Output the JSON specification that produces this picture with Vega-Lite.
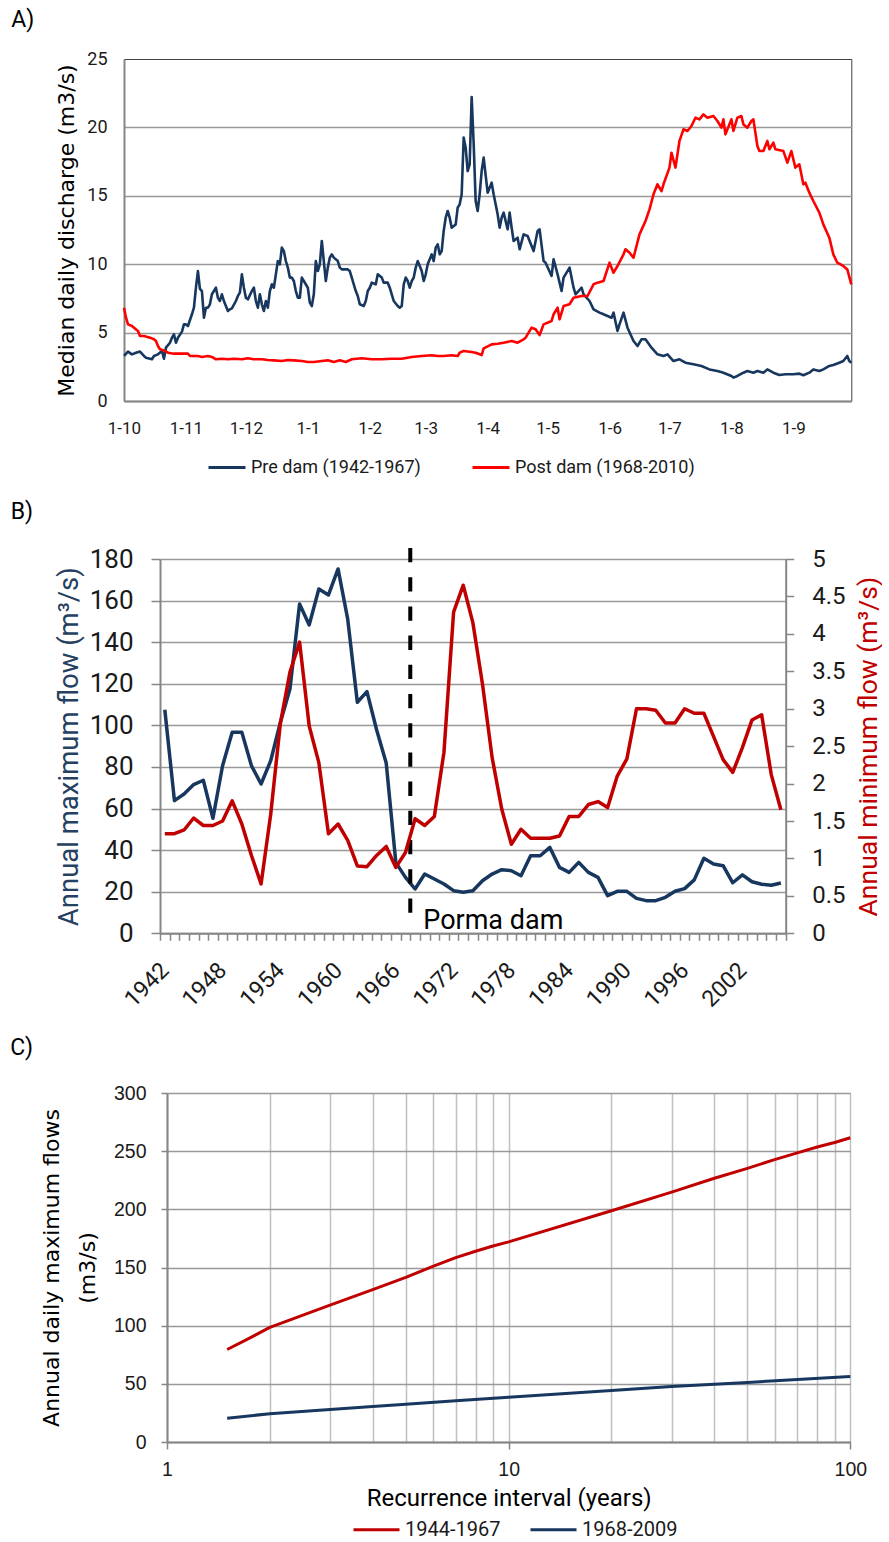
{
  "$schema": "https://vega.github.io/schema/vega-lite/v6.json",
  "padding": {"left": 9, "top": 8, "right": 0, "bottom": 0},
  "background": "white",
  "config": {
    "font": "Roboto",
    "view": {"stroke": null},
    "axis": {"labelColor": "#1a1a1a", "titleColor": "#000000", "domainColor": "#868686", "domainWidth": 2, "gridColor": "#999999", "gridWidth": 1.5, "tickColor": "#868686", "tickWidth": 1.5, "titleFontWeight": "normal", "labelFont": "Roboto", "titleFont": "Roboto", "labelOverlap": false},
    "title": {"fontWeight": "normal", "font": "Roboto", "fontSize": 23, "color": "#000000", "anchor": "start", "frame": "group"},
    "legend": {"labelFont": "Roboto", "labelColor": "#1a1a1a", "padding": 0, "labelLimit": 0}
  },
  "datasets": {
    "pre": [
      {"date":"2001-10-01","q":3.29},{"date":"2001-10-03","q":3.61},{"date":"2001-10-05","q":3.41},{"date":"2001-10-07","q":3.53},{"date":"2001-10-09","q":3.61},{"date":"2001-10-11","q":3.29},{"date":"2001-10-12","q":3.17},{"date":"2001-10-15","q":3.05},{"date":"2001-10-16","q":3.29},{"date":"2001-10-18","q":3.41},{"date":"2001-10-20","q":3.66},{"date":"2001-10-21","q":3.09},{"date":"2001-10-22","q":3.90},{"date":"2001-10-24","q":4.26},{"date":"2001-10-25","q":4.63},{"date":"2001-10-26","q":4.87},{"date":"2001-10-27","q":4.26},{"date":"2001-10-28","q":4.63},{"date":"2001-10-30","q":5.07},{"date":"2001-10-31","q":5.60},
      {"date":"2001-11-01","q":5.60},{"date":"2001-11-02","q":5.48},{"date":"2001-11-04","q":6.34},{"date":"2001-11-05","q":6.82},{"date":"2001-11-06","q":8.28},{"date":"2001-11-07","q":9.50},{"date":"2001-11-08","q":8.20},{"date":"2001-11-09","q":8.04},{"date":"2001-11-10","q":6.09},{"date":"2001-11-11","q":6.82},{"date":"2001-11-12","q":6.82},{"date":"2001-11-13","q":7.07},{"date":"2001-11-14","q":7.80},{"date":"2001-11-16","q":8.28},{"date":"2001-11-17","q":7.55},{"date":"2001-11-18","q":7.31},{"date":"2001-11-19","q":7.80},{"date":"2001-11-20","q":7.31},{"date":"2001-11-22","q":6.58},{"date":"2001-11-23","q":6.70},{"date":"2001-11-24","q":6.77},{"date":"2001-11-26","q":7.31},{"date":"2001-11-27","q":7.68},{"date":"2001-11-28","q":7.92},{"date":"2001-11-29","q":9.26},{"date":"2001-11-30","q":8.28},
      {"date":"2001-12-01","q":7.55},{"date":"2001-12-02","q":7.43},{"date":"2001-12-04","q":8.04},{"date":"2001-12-05","q":8.28},{"date":"2001-12-06","q":7.31},{"date":"2001-12-07","q":6.82},{"date":"2001-12-08","q":7.80},{"date":"2001-12-09","q":7.07},{"date":"2001-12-10","q":6.58},{"date":"2001-12-11","q":7.31},{"date":"2001-12-12","q":6.82},{"date":"2001-12-13","q":8.04},{"date":"2001-12-14","q":8.53},{"date":"2001-12-15","q":8.28},{"date":"2001-12-16","q":9.26},{"date":"2001-12-17","q":10.23},{"date":"2001-12-18","q":9.99},{"date":"2001-12-19","q":11.21},{"date":"2001-12-20","q":10.96},{"date":"2001-12-21","q":10.23},{"date":"2001-12-22","q":9.75},{"date":"2001-12-23","q":9.02},{"date":"2001-12-24","q":9.02},{"date":"2001-12-25","q":8.77},{"date":"2001-12-26","q":8.04},{"date":"2001-12-27","q":7.55},{"date":"2001-12-28","q":7.55},{"date":"2001-12-29","q":9.02},{"date":"2001-12-30","q":8.77},
      {"date":"2002-01-01","q":8.28},{"date":"2002-01-02","q":7.19},{"date":"2002-01-03","q":6.94},{"date":"2002-01-04","q":7.80},{"date":"2002-01-05","q":10.23},{"date":"2002-01-06","q":9.50},{"date":"2002-01-07","q":9.99},{"date":"2002-01-08","q":11.70},{"date":"2002-01-09","q":10.23},{"date":"2002-01-10","q":8.77},{"date":"2002-01-11","q":9.75},{"date":"2002-01-12","q":10.48},{"date":"2002-01-13","q":10.72},{"date":"2002-01-14","q":10.48},{"date":"2002-01-16","q":10.23},{"date":"2002-01-17","q":9.75},{"date":"2002-01-18","q":9.62},{"date":"2002-01-19","q":9.62},{"date":"2002-01-21","q":9.62},{"date":"2002-01-22","q":9.50},{"date":"2002-01-23","q":9.02},{"date":"2002-01-25","q":8.04},{"date":"2002-01-26","q":7.68},{"date":"2002-01-27","q":7.07},{"date":"2002-01-29","q":6.94},{"date":"2002-01-30","q":7.31},{"date":"2002-01-31","q":8.04},
      {"date":"2002-02-01","q":8.28},{"date":"2002-02-02","q":8.65},{"date":"2002-02-04","q":8.53},{"date":"2002-02-05","q":9.26},{"date":"2002-02-07","q":9.02},{"date":"2002-02-08","q":8.65},{"date":"2002-02-10","q":8.65},{"date":"2002-02-11","q":8.28},{"date":"2002-02-12","q":7.80},{"date":"2002-02-13","q":7.31},{"date":"2002-02-15","q":6.94},{"date":"2002-02-16","q":6.82},{"date":"2002-02-17","q":6.94},{"date":"2002-02-18","q":8.53},{"date":"2002-02-19","q":9.02},{"date":"2002-02-20","q":8.77},{"date":"2002-02-21","q":8.28},{"date":"2002-02-22","q":8.77},{"date":"2002-02-23","q":9.02},{"date":"2002-02-24","q":9.75},{"date":"2002-02-25","q":10.23},{"date":"2002-02-26","q":9.87},{"date":"2002-02-27","q":9.50},{"date":"2002-02-28","q":8.77},
      {"date":"2002-03-01","q":9.26},{"date":"2002-03-02","q":9.99},{"date":"2002-03-04","q":10.72},{"date":"2002-03-05","q":10.23},{"date":"2002-03-06","q":11.21},{"date":"2002-03-07","q":11.45},{"date":"2002-03-08","q":10.72},{"date":"2002-03-09","q":10.96},{"date":"2002-03-10","q":12.43},{"date":"2002-03-11","q":13.40},{"date":"2002-03-12","q":13.89},{"date":"2002-03-13","q":13.40},{"date":"2002-03-14","q":12.67},{"date":"2002-03-16","q":12.91},{"date":"2002-03-17","q":14.13},{"date":"2002-03-18","q":14.38},{"date":"2002-03-19","q":15.11},{"date":"2002-03-20","q":19.25},{"date":"2002-03-21","q":18.52},{"date":"2002-03-22","q":16.81},{"date":"2002-03-23","q":17.30},{"date":"2002-03-24","q":22.22},{"date":"2002-03-25","q":18.8},{"date":"2002-03-26","q":14.62},{"date":"2002-03-27","q":13.89},{"date":"2002-03-28","q":15.11},{"date":"2002-03-29","q":16.81},{"date":"2002-03-30","q":17.79},
      {"date":"2002-04-01","q":15.23},{"date":"2002-04-03","q":15.96},{"date":"2002-04-04","q":15.11},{"date":"2002-04-06","q":13.65},{"date":"2002-04-07","q":12.67},{"date":"2002-04-08","q":13.40},{"date":"2002-04-09","q":13.77},{"date":"2002-04-11","q":12.55},{"date":"2002-04-12","q":13.77},{"date":"2002-04-13","q":12.67},{"date":"2002-04-14","q":11.70},{"date":"2002-04-16","q":11.94},{"date":"2002-04-17","q":11.09},{"date":"2002-04-19","q":12.18},{"date":"2002-04-21","q":12.06},{"date":"2002-04-24","q":10.96},{"date":"2002-04-26","q":12.43},{"date":"2002-04-27","q":12.55},{"date":"2002-04-29","q":10.23},{"date":"2002-04-30","q":10.11},
      {"date":"2002-05-03","q":9.14},{"date":"2002-05-04","q":10.36},{"date":"2002-05-06","q":9.26},{"date":"2002-05-08","q":8.04},{"date":"2002-05-09","q":9.02},{"date":"2002-05-12","q":9.75},{"date":"2002-05-14","q":8.28},{"date":"2002-05-15","q":7.80},{"date":"2002-05-18","q":8.28},{"date":"2002-05-19","q":7.80},{"date":"2002-05-22","q":7.31},{"date":"2002-05-24","q":6.70},{"date":"2002-05-27","q":6.46},{"date":"2002-05-29","q":6.34},
      {"date":"2002-06-02","q":6.09},{"date":"2002-06-03","q":6.46},{"date":"2002-06-05","q":5.12},{"date":"2002-06-06","q":5.60},{"date":"2002-06-08","q":6.46},{"date":"2002-06-10","q":5.36},{"date":"2002-06-13","q":4.39},{"date":"2002-06-15","q":4.02},{"date":"2002-06-17","q":4.51},{"date":"2002-06-19","q":4.51},{"date":"2002-06-22","q":3.90},{"date":"2002-06-25","q":3.41},{"date":"2002-06-28","q":3.29},{"date":"2002-06-30","q":3.41},
      {"date":"2002-07-03","q":2.92},{"date":"2002-07-06","q":3.05},{"date":"2002-07-09","q":2.80},{"date":"2002-07-13","q":2.68},{"date":"2002-07-17","q":2.56},{"date":"2002-07-21","q":2.31},{"date":"2002-07-25","q":2.19},{"date":"2002-07-28","q":2.07},
      {"date":"2002-08-01","q":1.83},{"date":"2002-08-02","q":1.71},{"date":"2002-08-04","q":1.83},{"date":"2002-08-07","q":2.07},{"date":"2002-08-09","q":2.19},{"date":"2002-08-12","q":2.07},{"date":"2002-08-14","q":2.19},{"date":"2002-08-17","q":2.07},{"date":"2002-08-19","q":2.31},{"date":"2002-08-22","q":2.07},{"date":"2002-08-25","q":1.90},{"date":"2002-08-28","q":1.95},
      {"date":"2002-09-01","q":1.95},{"date":"2002-09-04","q":2.00},{"date":"2002-09-06","q":1.88},{"date":"2002-09-09","q":2.07},{"date":"2002-09-11","q":2.31},{"date":"2002-09-14","q":2.19},{"date":"2002-09-16","q":2.31},{"date":"2002-09-19","q":2.56},{"date":"2002-09-21","q":2.63},{"date":"2002-09-24","q":2.80},{"date":"2002-09-26","q":2.92},{"date":"2002-09-28","q":3.29},{"date":"2002-09-29","q":2.92},{"date":"2002-09-30","q":2.80}
    ],
    "post": [
      {"date":"2001-10-01","q":6.82},{"date":"2001-10-02","q":6.09},{"date":"2001-10-03","q":5.60},{"date":"2001-10-05","q":5.48},{"date":"2001-10-06","q":5.36},{"date":"2001-10-08","q":5.12},{"date":"2001-10-09","q":4.75},{"date":"2001-10-11","q":4.75},{"date":"2001-10-14","q":4.63},{"date":"2001-10-16","q":4.51},{"date":"2001-10-17","q":4.39},{"date":"2001-10-18","q":4.02},{"date":"2001-10-19","q":3.78},{"date":"2001-10-21","q":3.70},{"date":"2001-10-23","q":3.53},{"date":"2001-10-26","q":3.46},{"date":"2001-10-30","q":3.46},
      {"date":"2001-11-02","q":3.46},{"date":"2001-11-03","q":3.29},{"date":"2001-11-07","q":3.29},{"date":"2001-11-09","q":3.22},{"date":"2001-11-12","q":3.29},{"date":"2001-11-14","q":3.22},{"date":"2001-11-16","q":3.05},{"date":"2001-11-19","q":3.09},{"date":"2001-11-22","q":3.05},{"date":"2001-11-25","q":3.09},{"date":"2001-11-29","q":3.05},
      {"date":"2001-12-02","q":3.12},{"date":"2001-12-05","q":3.05},{"date":"2001-12-09","q":3.05},{"date":"2001-12-12","q":3.00},{"date":"2001-12-15","q":2.97},{"date":"2001-12-19","q":2.92},{"date":"2001-12-22","q":3.00},{"date":"2001-12-25","q":2.97},{"date":"2001-12-29","q":2.92},
      {"date":"2002-01-01","q":2.85},{"date":"2002-01-04","q":2.85},{"date":"2002-01-08","q":2.92},{"date":"2002-01-11","q":2.97},{"date":"2002-01-14","q":2.85},{"date":"2002-01-17","q":2.97},{"date":"2002-01-20","q":2.85},{"date":"2002-01-23","q":3.05},{"date":"2002-01-28","q":3.12},
      {"date":"2002-02-02","q":3.05},{"date":"2002-02-07","q":3.05},{"date":"2002-02-12","q":3.09},{"date":"2002-02-17","q":3.09},{"date":"2002-02-22","q":3.22},{"date":"2002-02-27","q":3.29},
      {"date":"2002-03-04","q":3.34},{"date":"2002-03-07","q":3.29},{"date":"2002-03-10","q":3.29},{"date":"2002-03-14","q":3.34},{"date":"2002-03-17","q":3.29},{"date":"2002-03-18","q":3.53},{"date":"2002-03-20","q":3.66},{"date":"2002-03-24","q":3.58},{"date":"2002-03-26","q":3.53},{"date":"2002-03-29","q":3.36},{"date":"2002-03-30","q":3.85},
      {"date":"2002-04-03","q":4.14},{"date":"2002-04-06","q":4.19},{"date":"2002-04-09","q":4.26},{"date":"2002-04-13","q":4.39},{"date":"2002-04-16","q":4.26},{"date":"2002-04-19","q":4.51},{"date":"2002-04-20","q":4.63},{"date":"2002-04-23","q":5.36},{"date":"2002-04-25","q":5.24},{"date":"2002-04-27","q":4.82},{"date":"2002-04-29","q":5.60},
      {"date":"2002-05-03","q":5.85},{"date":"2002-05-04","q":6.34},{"date":"2002-05-06","q":6.82},{"date":"2002-05-07","q":5.97},{"date":"2002-05-09","q":6.94},{"date":"2002-05-12","q":7.07},{"date":"2002-05-14","q":7.55},{"date":"2002-05-18","q":7.68},{"date":"2002-05-21","q":7.68},{"date":"2002-05-24","q":8.53},{"date":"2002-05-26","q":8.65},{"date":"2002-05-29","q":8.77},
      {"date":"2002-06-01","q":10.11},{"date":"2002-06-03","q":9.38},{"date":"2002-06-05","q":9.87},{"date":"2002-06-08","q":10.72},{"date":"2002-06-09","q":11.09},{"date":"2002-06-11","q":10.84},{"date":"2002-06-13","q":10.48},{"date":"2002-06-16","q":12.18},{"date":"2002-06-19","q":13.16},{"date":"2002-06-21","q":14.01},{"date":"2002-06-23","q":15.11},{"date":"2002-06-25","q":15.84},{"date":"2002-06-27","q":15.35},{"date":"2002-06-28","q":15.84},
      {"date":"2002-07-01","q":17.06},{"date":"2002-07-02","q":18.15},{"date":"2002-07-04","q":17.06},{"date":"2002-07-06","q":19.01},{"date":"2002-07-08","q":19.86},{"date":"2002-07-10","q":19.74},{"date":"2002-07-12","q":20.10},{"date":"2002-07-14","q":20.71},{"date":"2002-07-16","q":20.59},{"date":"2002-07-18","q":20.95},{"date":"2002-07-20","q":20.71},{"date":"2002-07-23","q":20.83},{"date":"2002-07-25","q":20.47},{"date":"2002-07-27","q":19.98},{"date":"2002-07-28","q":20.59},{"date":"2002-07-29","q":19.49},
      {"date":"2002-08-01","q":20.59},{"date":"2002-08-02","q":19.74},{"date":"2002-08-04","q":20.71},{"date":"2002-08-06","q":20.83},{"date":"2002-08-07","q":20.22},{"date":"2002-08-09","q":19.98},{"date":"2002-08-11","q":20.47},{"date":"2002-08-12","q":20.59},{"date":"2002-08-14","q":18.64},{"date":"2002-08-15","q":18.27},{"date":"2002-08-17","q":18.27},{"date":"2002-08-19","q":19.01},{"date":"2002-08-20","q":18.40},{"date":"2002-08-22","q":18.88},{"date":"2002-08-23","q":18.40},{"date":"2002-08-27","q":18.27},{"date":"2002-08-29","q":17.42},{"date":"2002-08-31","q":18.27},
      {"date":"2002-09-02","q":17.06},{"date":"2002-09-04","q":17.30},{"date":"2002-09-06","q":15.84},{"date":"2002-09-07","q":15.96},{"date":"2002-09-09","q":15.23},{"date":"2002-09-11","q":14.62},{"date":"2002-09-14","q":13.77},{"date":"2002-09-16","q":12.91},{"date":"2002-09-19","q":11.94},{"date":"2002-09-21","q":10.72},{"date":"2002-09-23","q":10.11},{"date":"2002-09-26","q":9.87},{"date":"2002-09-28","q":9.62},{"date":"2002-09-30","q":8.53}
    ],
    "annual": [
      {"year":1942,"max":107.5,"min":1.33},{"year":1943,"max":63.8,"min":1.33},{"year":1944,"max":67.0,"min":1.38},{"year":1945,"max":71.5,"min":1.54},{"year":1946,"max":73.6,"min":1.44},{"year":1947,"max":55.3,"min":1.44},{"year":1948,"max":80.6,"min":1.50},{"year":1949,"max":96.7,"min":1.77},{"year":1950,"max":96.7,"min":1.46},{"year":1951,"max":80.6,"min":1.04},
      {"year":1952,"max":71.8,"min":0.66},{"year":1953,"max":83.0,"min":1.59},{"year":1954,"max":101.4,"min":2.80},{"year":1955,"max":117.5,"min":3.49},{"year":1956,"max":158.4,"min":3.89},{"year":1957,"max":148.3,"min":2.77},{"year":1958,"max":165.6,"min":2.28},{"year":1959,"max":162.7,"min":1.33},{"year":1960,"max":175.2,"min":1.46},{"year":1961,"max":151.1,"min":1.24},
      {"year":1962,"max":111.1,"min":0.90},{"year":1963,"max":116.2,"min":0.89},{"year":1964,"max":97.9,"min":1.04},{"year":1965,"max":81.9,"min":1.16},{"year":1966,"max":34.0,"min":0.88},{"year":1967,"max":26.9,"min":1.08},{"year":1968,"max":21.3,"min":1.53},{"year":1969,"max":28.5,"min":1.44},{"year":1970,"max":26.1,"min":1.56},{"year":1971,"max":23.7,"min":2.42},
      {"year":1972,"max":20.5,"min":4.29},{"year":1973,"max":19.7,"min":4.65},{"year":1974,"max":20.5,"min":4.15},{"year":1975,"max":25.3,"min":3.33},{"year":1976,"max":28.5,"min":2.35},{"year":1977,"max":30.6,"min":1.66},{"year":1978,"max":30.1,"min":1.19},{"year":1979,"max":27.7,"min":1.39},{"year":1980,"max":37.3,"min":1.27},{"year":1981,"max":37.3,"min":1.27},
      {"year":1982,"max":41.3,"min":1.27},{"year":1983,"max":31.7,"min":1.30},{"year":1984,"max":29.3,"min":1.56},{"year":1985,"max":34.1,"min":1.56},{"year":1986,"max":29.3,"min":1.72},{"year":1987,"max":26.9,"min":1.76},{"year":1988,"max":18.1,"min":1.68},{"year":1989,"max":20.2,"min":2.10},{"year":1990,"max":20.2,"min":2.33},{"year":1991,"max":16.8,"min":3.00},
      {"year":1992,"max":15.7,"min":3.00},{"year":1993,"max":15.7,"min":2.98},{"year":1994,"max":17.3,"min":2.81},{"year":1995,"max":20.2,"min":2.81},{"year":1996,"max":21.5,"min":3.00},{"year":1997,"max":25.7,"min":2.94},{"year":1998,"max":36.1,"min":2.94},{"year":1999,"max":33.3,"min":2.63},{"year":2000,"max":32.5,"min":2.32},{"year":2001,"max":24.3,"min":2.15},
      {"year":2002,"max":28.1,"min":2.48},{"year":2003,"max":24.8,"min":2.85},{"year":2004,"max":23.6,"min":2.92},{"year":2005,"max":23.1,"min":2.12},{"year":2006,"max":24.2,"min":1.65}
    ],
    "freq": [
      {"period":"1944-1967","T":1.5,"q":79.5},{"period":"1944-1967","T":1.75,"q":89.5},{"period":"1944-1967","T":2,"q":98.5},{"period":"1944-1967","T":3,"q":117.6},{"period":"1944-1967","T":4,"q":131},{"period":"1944-1967","T":5,"q":141.5},{"period":"1944-1967","T":6,"q":151},{"period":"1944-1967","T":7,"q":158.5},{"period":"1944-1967","T":8,"q":164},{"period":"1944-1967","T":9,"q":168.5},{"period":"1944-1967","T":10,"q":172},{"period":"1944-1967","T":20,"q":198.8},{"period":"1944-1967","T":30,"q":214.8},{"period":"1944-1967","T":40,"q":226.7},{"period":"1944-1967","T":50,"q":235.2},{"period":"1944-1967","T":60,"q":242.7},{"period":"1944-1967","T":70,"q":248.5},{"period":"1944-1967","T":80,"q":253.6},{"period":"1944-1967","T":90,"q":257.5},{"period":"1944-1967","T":100,"q":261.5},
      {"period":"1968-2009","T":1.5,"q":20.5},{"period":"1968-2009","T":2,"q":24.3},{"period":"1968-2009","T":3,"q":28},{"period":"1968-2009","T":4,"q":30.5},{"period":"1968-2009","T":5,"q":32.4},{"period":"1968-2009","T":7,"q":35.5},{"period":"1968-2009","T":10,"q":38.5},{"period":"1968-2009","T":20,"q":44.3},{"period":"1968-2009","T":30,"q":47.7},{"period":"1968-2009","T":50,"q":51.2},{"period":"1968-2009","T":70,"q":53.8},{"period":"1968-2009","T":100,"q":56.3}
    ]
  },
  "vconcat": [
    {"spacing": 0, "hconcat": [
    {"width": 1, "height": 1, "data": {"values": []}, "mark": "point"},
    {
      "width": 727.3,
      "height": 342,
      "title": {"text": "A)", "dx": -112.7, "offset": 18},
      "view": {"stroke": "#404040", "strokeWidth": 1},
      "layer": [
        {
          "data": {"name": "pre"},
          "mark": {"type": "line", "strokeWidth": 2.6, "strokeJoin": "round"},
          "encoding": {
            "x": {"field": "date", "type": "temporal",
              "scale": {"type": "utc", "nice": false, "domain": [{"year": 2001, "month": 10, "date": 1, "utc": true}, {"year": 2002, "month": 9, "date": 30, "utc": true}]},
              "axis": {"title": null, "format": "1-%-m", "tickCount": {"interval": "month", "step": 1}, "ticks": false, "grid": false, "labelFlush": false, "labelOverlap": false, "labelFontSize": 17, "labelPadding": 19}},
            "y": {"field": "q", "type": "quantitative", "scale": {"domain": [0, 25], "nice": false},
              "axis": {"title": "Median daily discharge (m3/s)", "values": [0, 5, 10, 15, 20, 25], "format": "d", "ticks": false, "labelFontSize": 18, "labelPadding": 17, "titleFont": "DejaVu Sans", "titleFontSize": 22, "titlePadding": 8,
                "gridOpacity": {"condition": {"test": "datum.value == 25", "value": 0}, "value": 1}}},
            "color": {"datum": "Pre dam (1942-1967)",
              "scale": {"domain": ["Pre dam (1942-1967)", "Post dam (1968-2010)"], "range": ["#17375E", "#FF0000"]},
              "legend": {"orient": "none", "legendX": 198, "legendY": 388.5, "direction": "horizontal", "title": null, "symbolType": "stroke", "symbolStrokeWidth": 3, "symbolSize": 1369, "labelFontSize": 18, "columnPadding": 45, "labelOffset": 4}}
          }
        },
        {
          "data": {"name": "post"},
          "mark": {"type": "line", "strokeWidth": 2.6, "strokeJoin": "round"},
          "encoding": {
            "x": {"field": "date", "type": "temporal"},
            "y": {"field": "q", "type": "quantitative"},
            "color": {"datum": "Post dam (1968-2010)"}
          }
        }
      ]
    }]},
    {"spacing": 0, "hconcat": [
    {"width": 1, "height": 1, "data": {"values": []}, "mark": "point"},
    {
      "width": 625.7,
      "height": 374.3,
      "title": {"text": "B)", "dx": -149.3, "offset": 21.5},
      "data": {"name": "annual"},
      "layer": [
        {
          "layer": [
            {
              "mark": {"type": "line", "color": "#17375E", "strokeWidth": 3.5, "strokeJoin": "round"},
              "encoding": {
                "x": {"field": "year", "type": "quantitative", "scale": {"domain": [1941.5, 2006.5], "nice": false, "zero": false},
                  "axis": {"title": null, "grid": false, "tickSize": 7, "tickCount": 200,
                    "values": [1941.5,1942.5,1943.5,1944.5,1945.5,1946.5,1947.5,1948.5,1949.5,1950.5,1951.5,1952.5,1953.5,1954.5,1955.5,1956.5,1957.5,1958.5,1959.5,1960.5,1961.5,1962.5,1963.5,1964.5,1965.5,1966.5,1967.5,1968.5,1969.5,1970.5,1971.5,1972.5,1973.5,1974.5,1975.5,1976.5,1977.5,1978.5,1979.5,1980.5,1981.5,1982.5,1983.5,1984.5,1985.5,1986.5,1987.5,1988.5,1989.5,1990.5,1991.5,1992.5,1993.5,1994.5,1995.5,1996.5,1997.5,1998.5,1999.5,2000.5,2001.5,2002.5,2003.5,2004.5,2005.5,2006.5],
                    "labelExpr": "((datum.value + 0.5 - 1942) % 6 == 0 && datum.value < 2003) ? toString(datum.value + 0.5) : ''",
                    "labelOffset": 4.81, "labelAngle": -45, "labelAlign": "right", "labelBaseline": "middle", "labelFontSize": 23, "labelPadding": 26, "labelOverlap": false, "labelFlush": false}},
                "y": {"field": "max", "type": "quantitative", "scale": {"domain": [0, 180], "nice": false},
                  "axis": {"title": "Annual maximum flow (m³/s)", "titleColor": "#254061", "titleFontSize": 27.5, "titlePadding": 6, "values": [0,20,40,60,80,100,120,140,160,180], "format": "d", "tickSize": 9, "labelFontSize": 26, "labelPadding": 18}}
              }
            },
            {
              "data": {"values": [{"event": "Porma dam"}]},
              "mark": {"type": "rule", "color": "#000000", "strokeWidth": 4, "strokeDash": [14.3, 14.9]},
              "encoding": {
                "x": {"datum": 1967.5, "type": "quantitative"},
                "y": {"datum": 185.3, "type": "quantitative"},
                "y2": {"datum": 3}
              }
            },
            {
              "data": {"values": [{"event": "Porma dam"}]},
              "mark": {"type": "text", "align": "left", "baseline": "alphabetic", "dx": 13, "dy": -4, "fontSize": 27, "font": "Roboto", "color": "#000000"},
              "encoding": {
                "x": {"datum": 1967.5, "type": "quantitative"},
                "y": {"datum": 0, "type": "quantitative"},
                "text": {"field": "event"}
              }
            }
          ]
        },
        {
          "mark": {"type": "line", "color": "#C00000", "strokeWidth": 3.5, "strokeJoin": "round"},
          "encoding": {
            "x": {"field": "year", "type": "quantitative"},
            "y": {"field": "min", "type": "quantitative", "scale": {"domain": [0, 5], "nice": false},
              "axis": {"orient": "right", "title": "Annual minimum flow (m³/s)", "titleColor": "#C00000", "titleFontSize": 26.5, "titleAngle": 270, "titleBaseline": "top", "titlePadding": 10, "values": [0,0.5,1,1.5,2,2.5,3,3.5,4,4.5,5], "tickCount": 100, "format": "~g", "grid": false, "tickSize": 8, "labelFontSize": 24, "labelPadding": 18}}
          }
        }
      ],
      "resolve": {"scale": {"y": "independent"}}
    }]},
    {"spacing": 0, "hconcat": [
    {"width": 1, "height": 1, "data": {"values": []}, "mark": "point"},
    {
      "width": 683.3,
      "height": 349,
      "title": {"text": "C)", "dx": -156.7, "offset": 23.5},
      "data": {"name": "freq"},
      "mark": {"type": "line", "strokeWidth": 3, "strokeJoin": "round"},
      "encoding": {
        "x": {"field": "T", "type": "quantitative", "scale": {"type": "log", "domain": [1, 100], "nice": false},
          "axis": {"title": "Recurrence interval (years)", "titleFontSize": 24, "titlePadding": 8, "values": [1,2,3,4,5,6,7,8,9,10,20,30,40,50,60,70,80,90,100], "tickCount": 100,
            "labelExpr": "(datum.value == 1 || datum.value == 10 || datum.value == 100) ? toString(datum.value) : ''",
            "labelFont": "Liberation Sans", "labelFontSize": 19.5, "labelPadding": 11, "labelFlush": false, "labelOverlap": false, "tickSize": 7,
            "tickOpacity": {"condition": {"test": "datum.value == 1 || datum.value == 10 || datum.value == 100", "value": 1}, "value": 0},
            "gridColor": "#c0c0c0"}},
        "y": {"field": "q", "type": "quantitative", "scale": {"domain": [0, 300], "nice": false},
          "axis": {"title": ["Annual daily maximum flows", "(m3/s)"], "titleFont": "DejaVu Sans", "titleFontSize": 22, "titleLineHeight": 36, "titlePadding": 14, "values": [0,50,100,150,200,250,300], "format": "d", "tickSize": 6, "labelFont": "Liberation Sans", "labelFontSize": 19.5, "labelPadding": 15}},
        "color": {"field": "period", "type": "nominal",
          "scale": {"domain": ["1944-1967", "1968-2009"], "range": ["#C00000", "#17375E"]},
          "legend": {"orient": "none", "legendX": 343, "legendY": 412, "direction": "horizontal", "title": null, "symbolType": "stroke", "symbolStrokeWidth": 3, "symbolSize": 2116, "labelFontSize": 20, "columnPadding": 23, "labelOffset": 4}}
      }
    }]}
  ],
  "spacing": 24,
  "resolve": {"scale": {"color": "independent"}, "legend": {"color": "independent"}}
}
